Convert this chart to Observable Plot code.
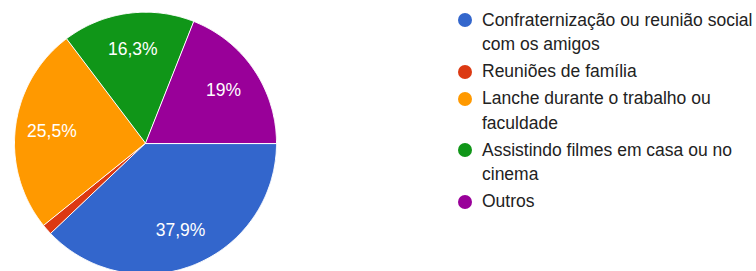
<!DOCTYPE html>
<html>
<head>
<meta charset="utf-8">
<script src="https://cdn.jsdelivr.net/npm/d3@7"></script>
<script src="https://cdn.jsdelivr.net/npm/@observablehq/plot@0.6"></script>
<style>
  html, body { margin: 0; padding: 0; background: #fff; }
  #wrap { position: relative; width: 756px; height: 271px; overflow: hidden; }
  #chart { position: absolute; left: 0; top: 0; }
  #legend { position: absolute; left: 458px; top: 7.75px; width: 298px;
    font-family: "Liberation Sans", Arial, sans-serif; font-size: 17.5px; color: #222; }
  .item { display: flex; align-items: flex-start; line-height: 24.5px; margin-bottom: 2.5px; }
  .sw { flex: none; width: 14px; height: 14px; border-radius: 50%; margin-top: 5.25px; margin-right: 10px; }
  .lab { width: 280px; }
</style>
</head>
<body>
<div id="wrap"><div id="chart"></div><div id="legend"></div></div>
<script>
const categories = [
  "Confraternização ou reunião social com os amigos",
  "Reuniões de família",
  "Lanche durante o trabalho ou faculdade",
  "Assistindo filmes em casa ou no cinema",
  "Outros"
];
const values = [37.9, 1.3, 25.5, 16.3, 19];
const colors = ["#3366cc", "#dc3912", "#ff9900", "#109618", "#990099"];
const labels = ["37,9%", "", "25,5%", "16,3%", "19%"];

// build slice outlines (unit circle, clockwise from 3 o'clock)
const total = d3.sum(values);
const outline = [];
const labelPts = [];
let cum = 0;
categories.forEach((c, i) => {
  const a0 = -2 * Math.PI * cum / total;
  const a1 = -2 * Math.PI * (cum + values[i]) / total;
  outline.push({name: c, x: 0, y: 0});
  const n = Math.max(2, Math.ceil(Math.abs(a1 - a0) / (Math.PI / 360)));
  for (let k = 0; k <= n; k++) {
    const a = a0 + (a1 - a0) * k / n;
    outline.push({name: c, x: Math.cos(a), y: Math.sin(a)});
  }
  const am = (a0 + a1) / 2;
  if (labels[i]) labelPts.push({name: c, text: labels[i], x: 0.72 * Math.cos(am), y: 0.72 * Math.sin(am)});
  cum += values[i];
});

const plot = Plot.plot({
  width: 290,
  height: 271,
  margin: 0,
  style: {background: "transparent", fontFamily: "'Liberation Sans', Arial, sans-serif"},
  x: {domain: [-1, 1], range: [14, 276], axis: null},
  y: {domain: [-1, 1], range: [273.7, 11.7], axis: null},
  color: {domain: categories, range: colors},
  marks: [
    Plot.line(outline, {x: "x", y: "y", z: "name", fill: "name", stroke: "#fff", strokeWidth: 1, curve: "linear-closed"}),
    Plot.text(labelPts, {x: "x", y: "y", text: "text", fill: "#fff", fontSize: 17.5})
  ]
});
document.getElementById("chart").appendChild(plot);

const legend = document.getElementById("legend");
categories.forEach((c, i) => {
  const item = document.createElement("div");
  item.className = "item";
  const sw = document.createElement("span");
  sw.className = "sw";
  sw.style.background = colors[i];
  const lab = document.createElement("span");
  lab.className = "lab";
  lab.textContent = c;
  item.appendChild(sw);
  item.appendChild(lab);
  legend.appendChild(item);
});
</script>
</body>
</html>
